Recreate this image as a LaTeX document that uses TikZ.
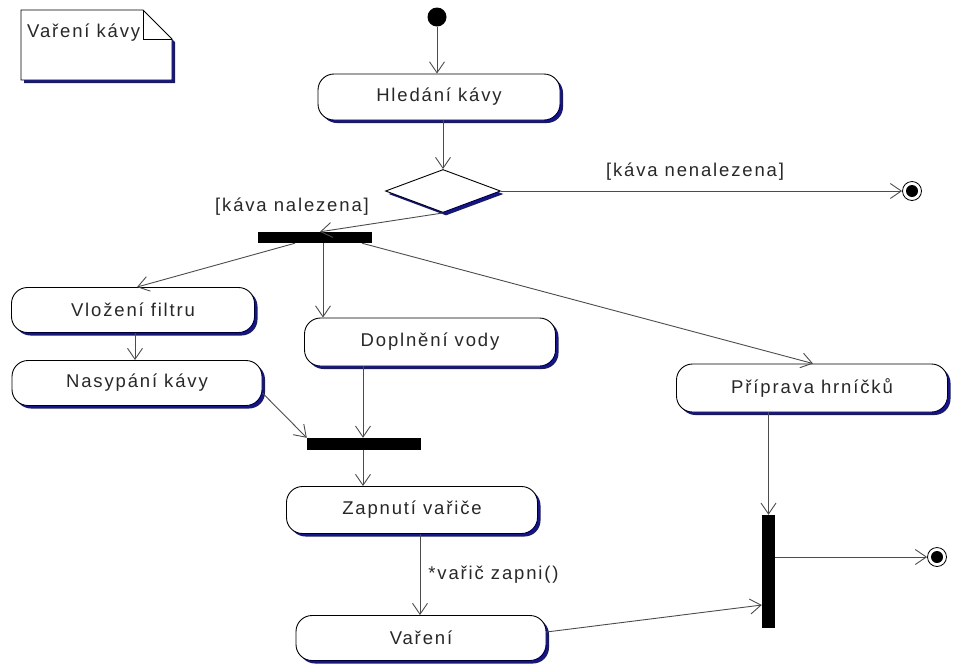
\documentclass[tikz,border=0pt]{standalone}
\usepackage{fontspec}
\setmainfont{Liberation Sans}[LetterSpace=10]
\usetikzlibrary{arrows.meta,shapes.geometric,shadows}
\definecolor{shadowblue}{RGB}{20,20,140}
\definecolor{txt}{RGB}{40,40,40}
\begin{document}
\begin{tikzpicture}[x=1pt,y=-1pt,
  font=\fontsize{18.5}{22}\selectfont,
  shad/.style={drop shadow={shadow xshift=3pt,shadow yshift=-3pt,opacity=1,fill=shadowblue}},
  act/.style={draw=black,line width=0.9pt,fill=white,rounded corners=16pt,text=txt,inner sep=0pt,shad},
  bar/.style={fill=black,draw=none,inner sep=0pt},
  flow/.style={draw=black!70,line width=0.9pt,-{Straight Barb[length=11pt,width=15pt,line width=0.9pt]}},
  lbl/.style={text=txt,inner sep=0pt},
  initst/.style={circle,fill=black,minimum size=19pt,inner sep=0pt},
  finst/.style={circle,draw=black,line width=0.8pt,fill=white,minimum size=19pt,inner sep=0pt,
    path picture={\fill[black] (path picture bounding box.center) circle (6pt);}},
]
\useasboundingbox (0,0) rectangle (954,665);
% note
\fill[shadowblue] (24,13) -- (146,13) -- (175,42) -- (175,83) -- (24,83) -- cycle;
\draw[fill=white,line width=0.9pt] (21,10) -- (143,10) -- (172,39) -- (172,80) -- (21,80) -- cycle;
\draw[line width=0.9pt] (143,10) -- (143,39) -- (172,39);
\node[lbl,anchor=west] (notetext) at (27,33) {Vaření kávy};
% nodes
\node[initst] (init) at (437,17) {};
\node[act,minimum width=242pt,minimum height=46pt] (hled) at (439,97) {Hledání kávy};
\node[diamond,draw=black,line width=0.9pt,fill=white,inner sep=0pt,aspect=2.67,minimum width=115pt,minimum height=43pt,shad] (dec) at (443,191) {};
\node[finst] (fin1) at (912,191) {};
\node[bar,minimum width=114pt,minimum height=11pt] (bar1) at (315,237.5) {};
\node[act,minimum width=243pt,minimum height=45pt] (vloz) at (133,310) {Vložení filtru};
\node[act,minimum width=250pt,minimum height=45pt] (nas) at (137,383) {Nasypání kávy};
\node[act,minimum width=251pt,minimum height=48pt] (dopl) at (430,342) {Doplnění vody};
\node[bar,minimum width=114pt,minimum height=12pt] (bar2) at (364,444) {};
\node[act,minimum width=251pt,minimum height=47pt] (zap) at (412,510) {Zapnutí vařiče};
\node[act,minimum width=250pt,minimum height=45pt] (var) at (421,638) {Vaření};
\node[act,minimum width=271pt,minimum height=48pt] (prip) at (812,388) {Příprava hrníčků};
\node[bar,minimum width=13pt,minimum height=113pt] (bar3) at (768.5,571.5) {};
\node[finst] (fin2) at (937,557) {};
% connectors
\draw[flow] (init) -- (hled.north -| init);
\draw[flow] (hled.south -| dec.north) -- (dec.north);
\draw[flow] (dec.east) -- (fin1.west);
\node[lbl] (lnot) at (695,172) {[káva nenalezena]};
\draw[flow] (dec.south) -- (bar1.north -| 320,0);
\node[lbl] (lfound) at (292,207) {[káva nalezena]};
\draw[flow] (bar1.south -| 295,0) -- (vloz.north -| 137,0);
\draw[flow] (bar1.south -| 323,0) -- (dopl.north -| 323,0);
\draw[flow] (bar1.south -| 362,0) -- (prip.north -| 813,0);
\draw[flow] (vloz.south -| 135,0) -- (nas.north -| 135,0);
\draw[flow] (nas.east |- 0,393) -- (bar2.north west);
\draw[flow] (dopl.south -| 363,0) -- (bar2.north -| 363,0);
\draw[flow] (bar2.south -| 363,0) -- (zap.north -| 363,0);
\draw[flow] (zap.south -| 420,0) -- node[lbl,anchor=west,xshift=8pt] (lzap) {*vařič zapni()} (var.north -| 420,0);
\draw[flow] (var.east |- 0,632) -- (bar3.west |- 0,605);
\draw[flow] (prip.south -| bar3) -- (bar3.north);
\draw[flow] (bar3.east |- fin2) -- (fin2.west);
\end{tikzpicture}
\end{document}
